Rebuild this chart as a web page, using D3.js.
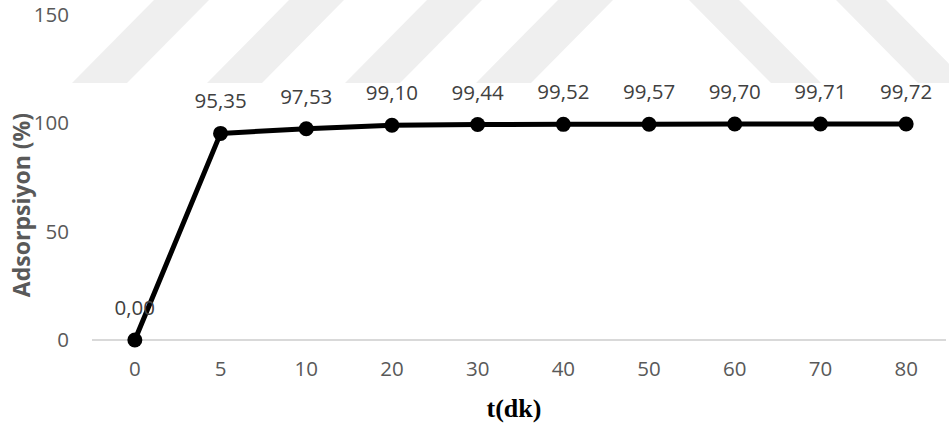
<!DOCTYPE html>
<html>
<head>
<meta charset="utf-8">
<script src="https://cdn.jsdelivr.net/npm/d3@7"></script>
<style>
  html, body { margin: 0; padding: 0; background: #fff; }
  svg { display: block; }
</style>
</head>
<body>
<svg id="chart" width="949" height="433"></svg>
<script>
// Adsorption (%) versus contact time t (minutes)
const categories = ["0", "5", "10", "20", "30", "40", "50", "60", "70", "80"];
const adsorption = [0.00, 95.35, 97.53, 99.10, 99.44, 99.52, 99.57, 99.70, 99.71, 99.72];
const yTicks = [0, 50, 100, 150];
const xTitle = "t(dk)";
const yTitle = "Adsorpsiyon (%)";

// Faint diagonal background bands
const forwardBands = [72, 207, 345, 476];
const backwardBands = [689, 836];

const svg = d3.select("#chart");

const x = d3.scaleBand().domain(categories).range([92, 949]);
const y = d3.scaleLinear().domain([0, 150]).range([340, 15]);
const fmt = v => d3.format(".2f")(v).replace(".", ",");

// background bands
const bandG = svg.append("g").attr("fill", "#efefef");
const bandH = 83, bandW = 55, bandShift = 82;
forwardBands.forEach(b => {
  bandG.append("polygon").attr("points",
    [[b, bandH], [b + bandW, bandH], [b + bandW + bandShift, 0], [b + bandShift, 0]].join(" "));
});
backwardBands.forEach(t => {
  bandG.append("polygon").attr("points",
    [[t, 0], [t + 50, 0], [t + 50 + bandShift, bandH], [t + bandShift, bandH]].join(" "));
});

// baseline
svg.append("line")
  .attr("x1", 92).attr("x2", 946)
  .attr("y1", y(0)).attr("y2", y(0))
  .attr("stroke", "#d9d9d9").attr("stroke-width", 2);

// y axis
const yAxis = svg.append("g")
  .attr("transform", "translate(92,0)")
  .call(d3.axisLeft(y).tickValues(yTicks).tickSize(0).tickPadding(23));
yAxis.select(".domain").remove();
yAxis.selectAll("text")
  .attr("font-family", "'Open Sans', sans-serif")
  .attr("font-size", 20.5).attr("fill", "#595959");

// x axis
const xAxis = svg.append("g")
  .attr("transform", `translate(0,${y(0)})`)
  .call(d3.axisBottom(x).tickSize(0).tickPadding(21));
xAxis.select(".domain").remove();
xAxis.selectAll("text")
  .attr("font-family", "'Open Sans', sans-serif")
  .attr("font-size", 20.5).attr("fill", "#595959");

// series line
const pts = categories.map((c, i) => ({ c, v: adsorption[i] }));
const line = d3.line().x(d => x(d.c) + x.bandwidth() / 2).y(d => y(d.v));
svg.append("path")
  .datum(pts)
  .attr("d", line)
  .attr("fill", "none")
  .attr("stroke", "#000")
  .attr("stroke-width", 5)
  .attr("stroke-linejoin", "round");

// markers
svg.append("g").selectAll("circle")
  .data(pts).join("circle")
  .attr("cx", d => x(d.c) + x.bandwidth() / 2)
  .attr("cy", d => y(d.v))
  .attr("r", 7.5)
  .attr("fill", "#000");

// value labels
svg.append("g").selectAll("text")
  .data(pts).join("text")
  .attr("x", d => x(d.c) + x.bandwidth() / 2)
  .attr("y", d => y(d.v) - 25)
  .attr("text-anchor", "middle")
  .attr("font-family", "'Open Sans', sans-serif")
  .attr("font-size", 20.5).attr("fill", "#404040")
  .text(d => fmt(d.v));

// axis titles
svg.append("text")
  .attr("x", 514).attr("y", 417)
  .attr("text-anchor", "middle")
  .attr("font-family", "'Liberation Serif', 'Times New Roman', serif")
  .attr("font-weight", "bold")
  .attr("font-size", 26).attr("fill", "#000")
  .text(xTitle);

svg.append("text")
  .attr("transform", "translate(30,205) rotate(-90)")
  .attr("text-anchor", "middle")
  .attr("font-family", "'Open Sans', sans-serif")
  .attr("font-weight", "bold")
  .attr("font-size", 23).attr("fill", "#595959")
  .text(yTitle);
</script>
</body>
</html>
